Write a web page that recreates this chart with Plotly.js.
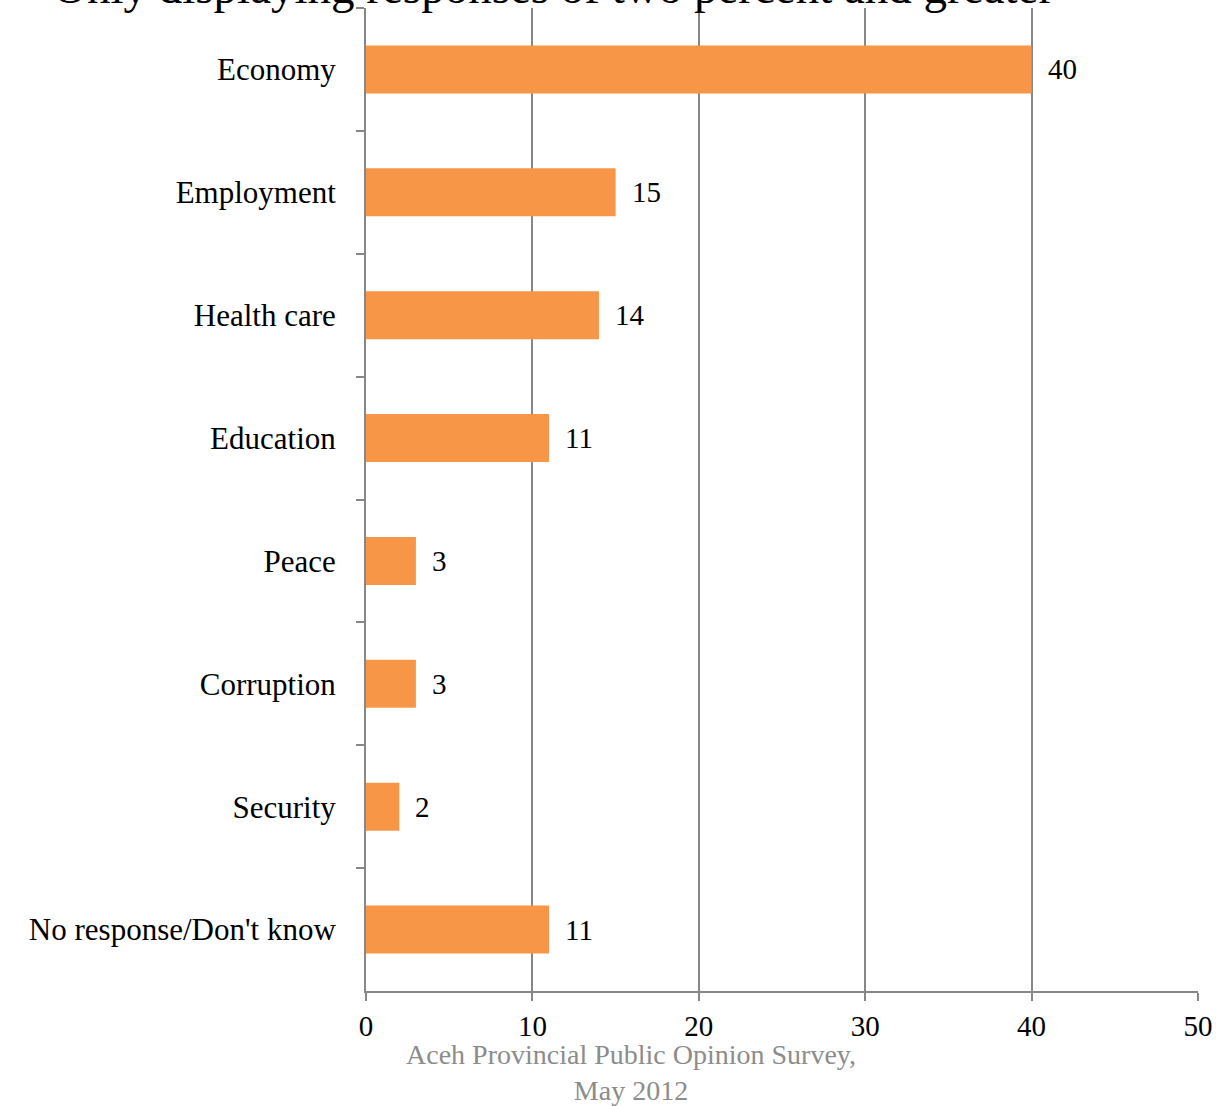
<!DOCTYPE html>
<html>
<head>
<meta charset="utf-8">
<script src="https://cdn.plot.ly/plotly-3.0.1.min.js"></script>
<style>html,body{margin:0;padding:0;background:#fff;}#chart{width:1216px;height:1106px;}</style>
</head>
<body>
<div id="chart"></div>
<script>
const categories = ["Economy", "Employment", "Health care", "Education", "Peace", "Corruption", "Security", "No response/Don't know"];
const values = [40, 15, 14, 11, 3, 3, 2, 11];
const xTicks = [0, 10, 20, 30, 40, 50];
const titleText = "Only displaying responses of two percent and greater";
const sourceText = "Aceh Provincial Public Opinion Survey,<br>May 2012";

const FONT = "Liberation Serif, Times New Roman, serif";
const GRAY = "#878787";

const trace = {
  type: "bar",
  orientation: "h",
  x: values,
  y: categories,
  width: 0.39,
  marker: {color: "#F79646", line: {width: 0}},
  hoverinfo: "skip"
};

const annotations = values.map((v, i) => ({
  x: v, y: categories[i], xref: "x", yref: "y",
  text: String(v), showarrow: false,
  xanchor: "left", yanchor: "middle", xshift: 14,
  font: {family: FONT, size: 29, color: "#000"}
}));
annotations.push({
  xref: "paper", yref: "paper", x: 0.2248, y: 1, xanchor: "center", yanchor: "bottom",
  yshift: -7, text: titleText, showarrow: false,
  font: {family: FONT, size: 47, color: "#000"}
});
annotations.push({
  xref: "paper", yref: "paper", x: 0.3185, y: 0, xanchor: "center", yanchor: "top",
  yshift: -46, text: sourceText, showarrow: false,
  font: {family: FONT, size: 28, color: "#8c8c8c"}
});

const layout = {
  width: 1216, height: 1106,
  margin: {l: 366, r: 18, t: 7.5, b: 115, pad: 0},
  paper_bgcolor: "#fff", plot_bgcolor: "#fff",
  showlegend: false,
  font: {family: FONT, size: 29, color: "#000"},
  xaxis: {
    range: [0, 50], tickvals: xTicks, ticktext: xTicks.map(String),
    showgrid: true, gridcolor: GRAY, gridwidth: 2,
    zeroline: false, showline: true, linecolor: GRAY, linewidth: 2,
    ticks: "outside", ticklen: 8, tickcolor: GRAY, tickwidth: 2,
    tickfont: {family: FONT, size: 29, color: "#000"},
    fixedrange: true
  },
  yaxis: {
    type: "category", categoryorder: "array", categoryarray: categories,
    range: [7.5, -0.5], showgrid: false, zeroline: false,
    showline: true, linecolor: GRAY, linewidth: 2,
    ticks: "outside", ticklen: 8, tickcolor: GRAY, tickwidth: 2, tickson: "boundaries",
    ticklabelstandoff: 22,
    tickfont: {family: FONT, size: 31, color: "#000"},
    fixedrange: true
  },
  annotations: annotations
};

Plotly.newPlot("chart", [trace], layout, {displayModeBar: false, staticPlot: true});
</script>
</body>
</html>
